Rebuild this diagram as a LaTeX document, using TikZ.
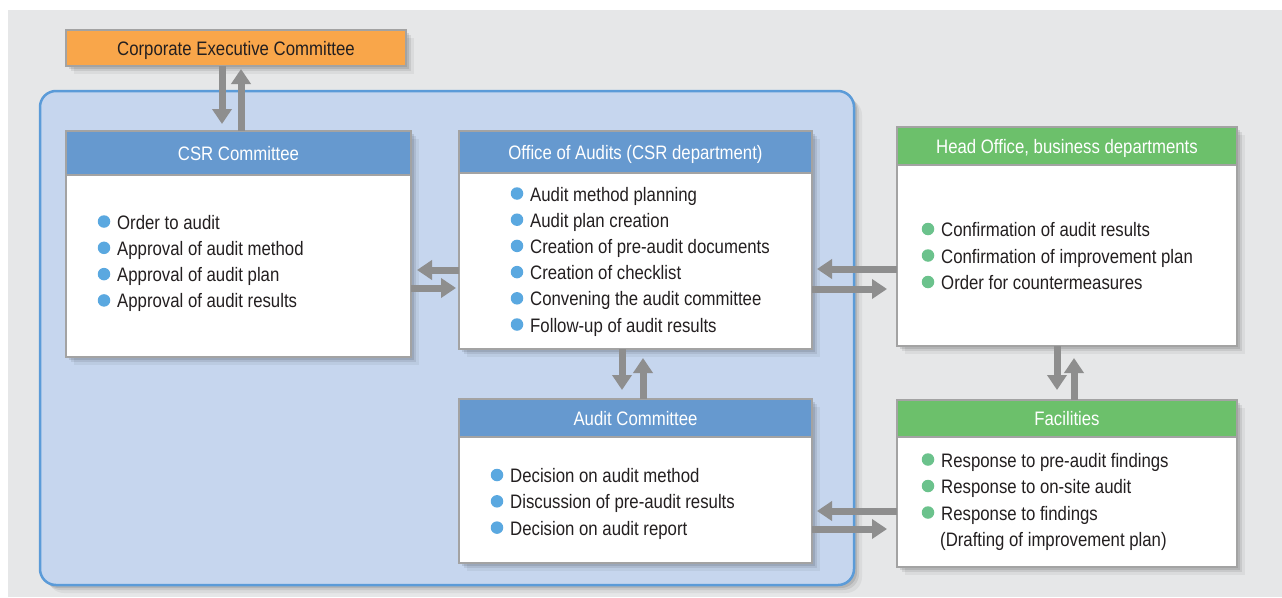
\documentclass[tikz,border=0pt]{standalone}
\usepackage{fontspec}
\setmainfont[FakeStretch=0.86]{Liberation Sans}
\usetikzlibrary{arrows.meta,positioning,shadows}

\definecolor{bggray}{HTML}{E6E7E8}
\definecolor{orangebox}{HTML}{F9A64A}
\definecolor{regionfill}{HTML}{C6D6EE}
\definecolor{regionedge}{HTML}{5B9BD8}
\definecolor{hdrblue}{HTML}{6699CF}
\definecolor{hdrgreen}{HTML}{6CC06B}
\definecolor{dotblue}{HTML}{5AA8E0}
\definecolor{dotgreen}{HTML}{6BC28C}
\definecolor{arrgray}{HTML}{8E8E8E}
\definecolor{edgegray}{HTML}{A3A3A3}
\definecolor{ink}{HTML}{231F20}

\newcommand\boxfont{\fontsize{19.5pt}{23pt}\selectfont}

\tikzset{
  softshadow/.style={
    drop shadow={shadow xshift=3pt, shadow yshift=-3pt, fill=black, opacity=.10},
    drop shadow={shadow xshift=5pt, shadow yshift=-5pt, fill=black, opacity=.08},
    drop shadow={shadow xshift=8pt, shadow yshift=-8pt, fill=black, opacity=.05}},
  box/.style={draw=edgegray, line width=1.5pt, inner sep=0pt, outer sep=0pt,
    anchor=north west, font=\boxfont, text height=14pt, text depth=0pt, softshadow},
  hdr/.style={box, fill=#1, text=white},
  body/.style={box, fill=white},
  item/.style={anchor=base west, inner sep=0pt, font=\boxfont, text=ink},
  dot/.style={circle, fill=#1, minimum size=12.5pt, inner sep=0pt},
  flow/.style={draw=arrgray, line width=7pt, -{Triangle[width=19pt,length=15pt]}},
}

\begin{document}
\begin{tikzpicture}[x=1pt, y=-1pt]
  \useasboundingbox (0,0) rectangle (1282,597);
  \fill[bggray] (8,10) rectangle (1282,597);

  % CSR area
  \draw[fill=regionfill, draw=regionedge, line width=2.5pt, rounded corners=16pt, softshadow]
    (40,91) rectangle (854,585);

  % top committee
  \node[box, fill=orangebox, text=ink, minimum width=340pt, minimum height=36pt]
    (corp) at (66,30) {Corporate Executive Committee};

  % boxes: header + body
  \node[hdr=hdrblue, minimum width=345pt, minimum height=44pt] (csrh) at (66,131) {CSR Committee};
  \node[body, minimum width=345pt, minimum height=182pt, below=0pt of csrh] (csrb) {};

  \node[hdr=hdrblue, minimum width=353pt, minimum height=42pt] (offh) at (459,131) {Office of Audits (CSR department)};
  \node[body, minimum width=353pt, minimum height=176pt, below=0pt of offh] (offb) {};

  \node[hdr=hdrblue, minimum width=353pt, minimum height=38pt] (acth) at (459,399) {Audit Committee};
  \node[body, minimum width=353pt, minimum height=126pt, below=0pt of acth] (actb) {};

  \node[hdr=hdrgreen, minimum width=340pt, minimum height=38pt] (headh) at (897,127) {Head Office, business departments};
  \node[body, minimum width=340pt, minimum height=181pt, below=0pt of headh] (headb) {};

  \node[hdr=hdrgreen, minimum width=340pt, minimum height=37pt] (fach) at (897,400) {Facilities};
  \node[body, minimum width=340pt, minimum height=130pt, below=0pt of fach] (facb) {};

  % bullet lists
  \foreach \t [count=\i from 0] in {Order to audit, Approval of audit method,
      Approval of audit plan, Approval of audit results}{
    \node[dot=dotblue] (csr-d\i) at (104,221.5+26.3*\i) {};
    \node[item] (csr-t\i) at (117,229+26.3*\i) {\t};
  }
  \foreach \t [count=\i from 0] in {Audit method planning, Audit plan creation,
      Creation of pre-audit documents, Creation of checklist,
      Convening the audit committee, Follow-up of audit results}{
    \node[dot=dotblue] (off-d\i) at (517,193.5+26.2*\i) {};
    \node[item] (off-t\i) at (530,201+26.2*\i) {\t};
  }
  \foreach \t [count=\i from 0] in {Decision on audit method,
      Discussion of pre-audit results, Decision on audit report}{
    \node[dot=dotblue] (act-d\i) at (497,475+26.3*\i) {};
    \node[item] (act-t\i) at (510,482.5+26.3*\i) {\t};
  }
  \foreach \t [count=\i from 0] in {Confirmation of audit results,
      Confirmation of improvement plan, Order for countermeasures}{
    \node[dot=dotgreen] (head-d\i) at (928,229+26.5*\i) {};
    \node[item] (head-t\i) at (941,236.5+26.5*\i) {\t};
  }
  \foreach \t [count=\i from 0] in {Response to pre-audit findings,
      Response to on-site audit, Response to findings}{
    \node[dot=dotgreen] (fac-d\i) at (928,459.5+26.5*\i) {};
    \node[item] (fac-t\i) at (941,467+26.5*\i) {\t};
  }
  \node[item] (fac-t3) at (940,546.5) {(Drafting of improvement plan)};

  % arrows
  \draw[flow, shorten >=7pt] ([xshift=-14pt]corp.south) -- ([xshift=-16.5pt]csrh.north);
  \draw[flow, shorten >=3pt] ([xshift=2.5pt]csrh.north) -- ([xshift=5pt]corp.south);

  \draw[flow, shorten >=6pt] ([yshift=-9pt]offb.west) -- ([yshift=-4pt]csrb.east);
  \draw[flow, shorten >=3pt] ([yshift=-22pt]csrb.east) -- ([yshift=-27pt]offb.west);

  \draw[flow, shorten >=5pt] ([yshift=-13.5pt]headb.west) -- ([yshift=-8pt]offb.east);
  \draw[flow, shorten >=10pt] ([yshift=-28pt]offb.east) -- ([yshift=-33.5pt]headb.west);

  \draw[flow, shorten >=9pt] ([xshift=-13.5pt]offb.south) -- ([xshift=-13.5pt]acth.north);
  \draw[flow, shorten >=9pt] ([xshift=7.5pt]acth.north) -- ([xshift=7.5pt]offb.south);

  \draw[flow, shorten >=10pt] ([xshift=-10pt]headb.south) -- ([xshift=-10pt]fach.north);
  \draw[flow, shorten >=12pt] ([xshift=7pt]fach.north) -- ([xshift=7pt]headb.south);

  \draw[flow, shorten >=5pt] ([yshift=-9pt]facb.west) -- ([yshift=-11pt]actb.east);
  \draw[flow, shorten >=10pt] ([yshift=-29pt]actb.east) -- ([yshift=-27pt]facb.west);
\end{tikzpicture}
\end{document}
